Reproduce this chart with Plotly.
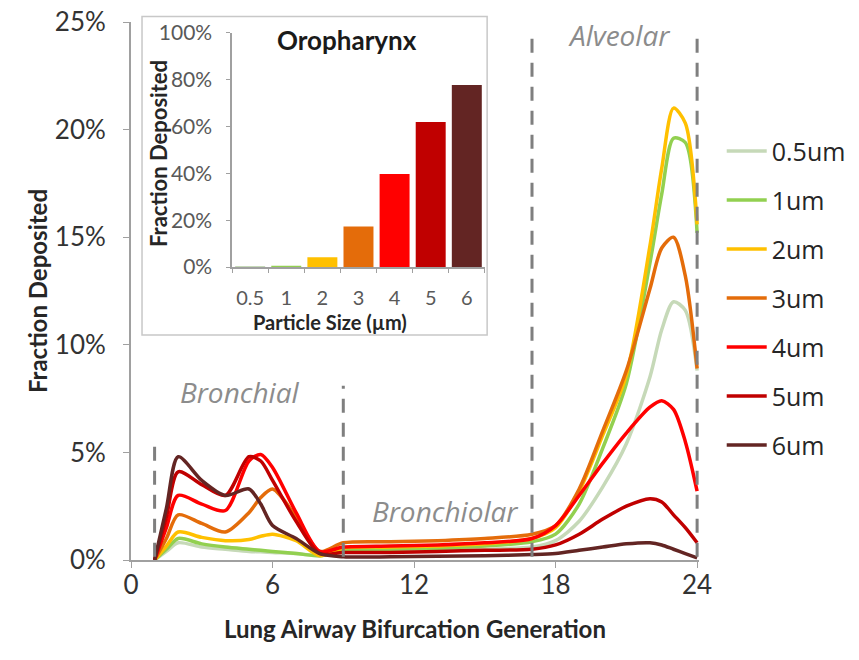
import plotly.graph_objects as go

# ---------------- data ----------------
generations = [1, 1.5, 2, 3, 4, 5, 5.5, 6, 7, 8, 9, 11, 13, 15, 17, 18, 19, 20, 21, 22, 22.5, 23, 23.5, 24]

sizes = ["0.5um", "1um", "2um", "3um", "4um", "5um", "6um"]

dep_05 = [0, 0.4, 0.8, 0.6, 0.5, 0.4, 0.38, 0.35, 0.3, 0.2, 0.35, 0.4, 0.45, 0.5,
          0.6, 0.9, 1.8, 3.4, 5.4, 8.5, 10.7, 12.0, 11.6, 8.8]
dep_1 = [0, 0.5, 1.0, 0.75, 0.6, 0.5, 0.45, 0.4, 0.3, 0.2, 0.45, 0.5, 0.55, 0.65,
         0.85, 1.2, 2.6, 5.2, 8.2, 13.8, 17.0, 19.6, 19.4, 15.2]
dep_2 = [0, 0.65, 1.3, 1.05, 0.9, 0.95, 1.1, 1.2, 0.9, 0.2, 0.55, 0.6, 0.65, 0.75,
         1.0, 1.5, 3.2, 5.8, 8.6, 14.6, 18.2, 21.0, 20.3, 15.6]
dep_3 = [0, 1.0, 2.1, 1.7, 1.3, 2.2, 2.9, 3.3, 2.0, 0.4, 0.8, 0.85, 0.9, 1.0,
         1.2, 1.6, 3.3, 6.0, 8.8, 12.6, 14.5, 15.0, 13.2, 8.9]
dep_4 = [0, 1.5, 3.0, 2.6, 2.3, 4.6, 4.9, 4.3, 2.2, 0.4, 0.6, 0.65, 0.7, 0.8,
         1.0, 1.6, 3.0, 4.5, 5.9, 7.1, 7.4, 7.0, 5.5, 3.2]
dep_5 = [0, 2.0, 4.1, 3.5, 3.0, 4.8, 4.6, 3.7, 1.8, 0.3, 0.35, 0.35, 0.4, 0.45,
         0.5, 0.7, 1.2, 1.9, 2.5, 2.85, 2.7, 2.1, 1.5, 0.8]
dep_6 = [0, 2.4, 4.8, 3.7, 3.0, 3.3, 2.6, 1.6, 1.0, 0.3, 0.15, 0.15, 0.18, 0.2,
         0.25, 0.3, 0.45, 0.6, 0.75, 0.8, 0.7, 0.5, 0.3, 0.1]

series = [dep_05, dep_1, dep_2, dep_3, dep_4, dep_5, dep_6]
colors = ["#c6d9b8", "#92d050", "#ffc000", "#e46c0a", "#ff0000", "#c00000", "#632523"]

# inset: oropharynx deposition
particle_sizes = ["0.5", "1", "2", "3", "4", "5", "6"]
oro_dep = [0.2, 0.5, 4.2, 17.3, 39.7, 62.0, 77.8]

x_ticks = [0, 6, 12, 18, 24]
y_ticks = [0, 5, 10, 15, 20, 25]
y_labels = ["0%", "5%", "10%", "15%", "20%", "25%"]
inset_ticks = [0, 20, 40, 60, 80, 100]
inset_labels = ["0%", "20%", "40%", "60%", "80%", "100%"]

region_bounds = [1, 9, 17, 24]
region_tops = [5.6, 8.1, 24.6, 24.6]

FONT = "Lato"
FONT2 = "Open Sans"
fig = go.Figure()

for name, vals, col in zip(sizes, series, colors):
    fig.add_trace(go.Scatter(
        x=generations, y=vals, name=name, mode="lines",
        line=dict(color=col, width=3.5, shape="spline", smoothing=0.8),
        legendgroup=name, xaxis="x", yaxis="y"))

fig.add_trace(go.Bar(
    x=particle_sizes, y=oro_dep, marker=dict(color=colors, line=dict(width=0)),
    showlegend=False, xaxis="x2", yaxis="y2"))

shapes = []
for b, top in zip(region_bounds, region_tops):
    shapes.append(dict(type="line", xref="x", yref="y", x0=b, x1=b, y0=0.15, y1=top,
                       line=dict(color="#7f7f7f", width=3, dash="14px,10px"), layer="above"))
# inset frame
shapes.append(dict(type="rect", xref="paper", yref="paper",
                   x0=0.0194, x1=0.627, y0=0.418, y1=1.01,
                   line=dict(color="#c8c8c8", width=1.5), fillcolor="white", layer="below"))
fig.update_layout(shapes=shapes)

annotations = [
    dict(text="<i>Bronchial</i>", x=4.6, y=7.8, xref="x", yref="y", showarrow=False,
         font=dict(family=FONT2, size=28, color="#8c8c8c")),
    dict(text="<i>Bronchiolar</i>", x=13.3, y=2.3, xref="x", yref="y", showarrow=False,
         font=dict(family=FONT2, size=28, color="#8c8c8c")),
    dict(text="<i>Alveolar</i>", x=20.7, y=24.4, xref="x", yref="y", showarrow=False,
         font=dict(family=FONT2, size=28, color="#8c8c8c")),
    dict(text="<b>Oropharynx</b>", x=0.380, y=0.9665, xref="paper", yref="paper", showarrow=False,
         xanchor="center", yanchor="middle",
         font=dict(family=FONT, size=26, color="#1a1a1a")),
    dict(text="<b>Particle Size (µm)</b>", x=0.350, y=0.443, xref="paper", yref="paper",
         showarrow=False, xanchor="center", yanchor="middle",
         font=dict(family=FONT, size=20, color="#262626")),
    dict(text="<b>Fraction Deposited</b>", x=0.0475, y=0.7565, xref="paper", yref="paper",
         showarrow=False, xanchor="center", yanchor="middle", textangle=-90,
         font=dict(family=FONT, size=22, color="#262626")),
]
fig.update_layout(annotations=annotations)

fig.update_layout(
    width=859, height=660,
    margin=dict(l=131, r=160, t=22, b=100, autoexpand=False),
    paper_bgcolor="white", plot_bgcolor="white",
    font=dict(family=FONT, color="#404040"),
    showlegend=True,
    legend=dict(x=1.04, y=0.8026, xanchor="left", yanchor="top",
                font=dict(family=FONT2, size=25, color="#262626"),
                tracegroupgap=13.5, itemwidth=40, bgcolor="rgba(0,0,0,0)"),
    xaxis=dict(range=[0, 24.08], tickvals=x_ticks, showgrid=False, zeroline=False,
               automargin=False,
               showline=True, linecolor="#a0a0a0", linewidth=2,
               ticks="outside", ticklen=6, tickcolor="#a0a0a0", ticklabelstandoff=-5,
               tickfont=dict(family=FONT, size=26, color="#333333"),
               title=dict(text="<b>Lung Airway Bifurcation Generation</b>",
                          font=dict(family=FONT, size=24, color="#262626"), standoff=22)),
    yaxis=dict(range=[0, 25], tickvals=y_ticks, ticktext=y_labels, showgrid=False, zeroline=False,
               automargin=False,
               showline=True, linecolor="#a0a0a0", linewidth=2,
               ticks="outside", ticklen=6, tickcolor="#a0a0a0", ticklabelstandoff=12,
               tickfont=dict(family=FONT, size=26, color="#333333"),
               title=dict(text="<b>Fraction Deposited</b>",
                          font=dict(family=FONT, size=24, color="#262626"), standoff=0)),
    xaxis2=dict(domain=[0.178, 0.623], anchor="y2", type="category", showgrid=False,
                automargin=False, tickangle=0,
                showline=True, linecolor="#a0a0a0", linewidth=1.5,
                ticks="outside", ticklen=4, tickcolor="#a0a0a0", tickson="boundaries",
                ticklabelstandoff=12,
                tickfont=dict(family=FONT, size=20, color="#595959")),
    yaxis2=dict(domain=[0.5446, 0.9796], anchor="x2", range=[0, 100], tickvals=inset_ticks,
                ticktext=inset_labels, showgrid=False, zeroline=False, automargin=False,
                showline=True, linecolor="#a0a0a0", linewidth=1.5,
                ticks="outside", ticklen=4, tickcolor="#a0a0a0", ticklabelstandoff=10,
                tickfont=dict(family=FONT, size=21, color="#595959")),
    bargap=0.17,
)

fig.write_html("out.html")
